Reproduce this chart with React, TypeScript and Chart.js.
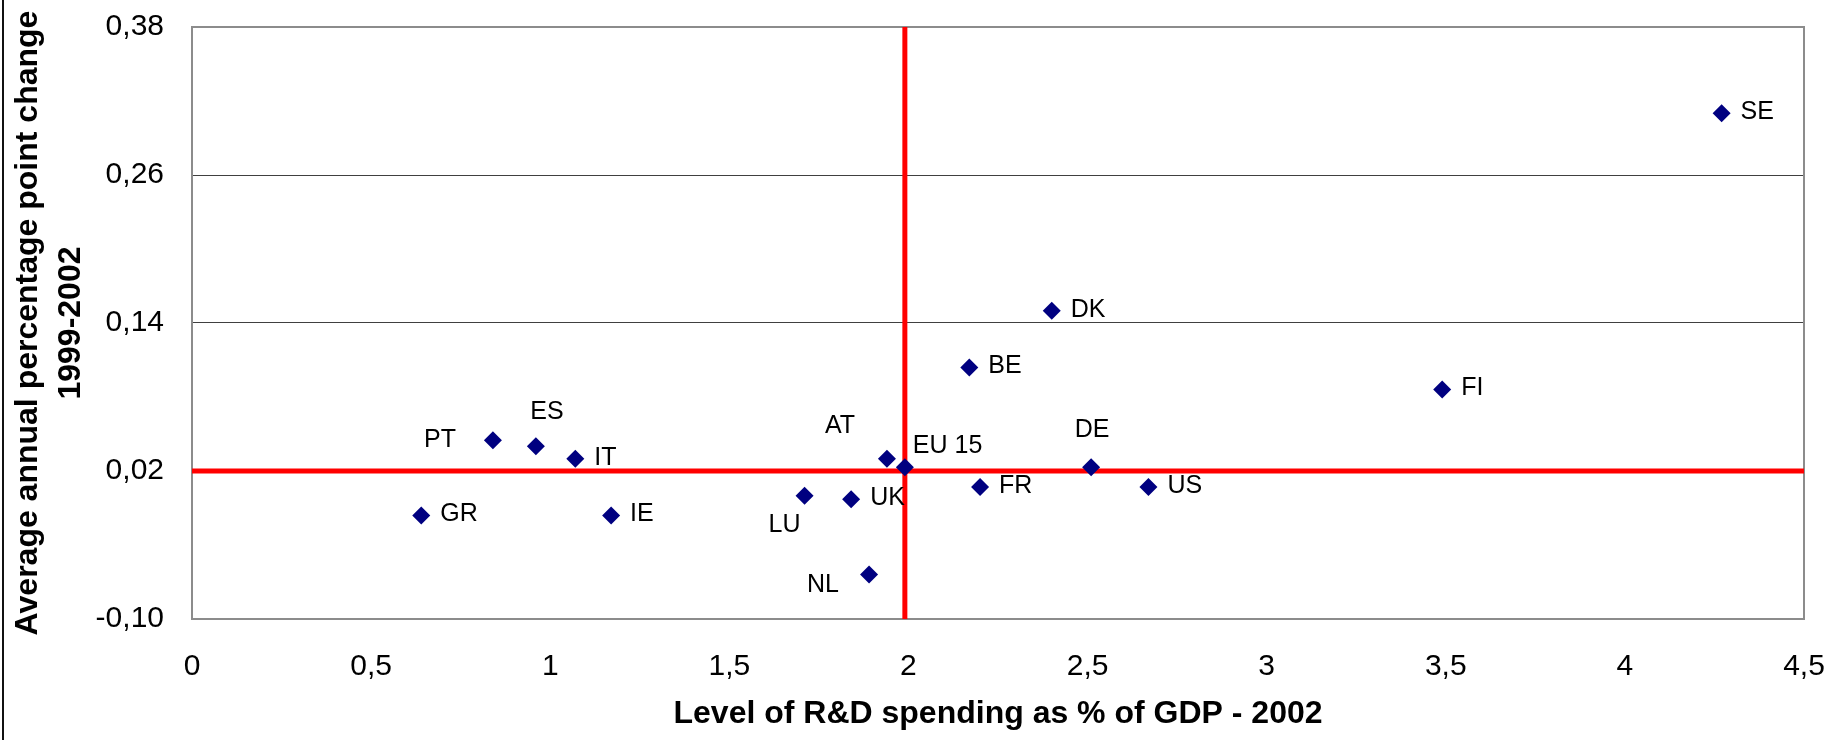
import React, { useEffect, useRef } from 'react';
import { Chart, registerables } from 'chart.js';

Chart.register(...registerables);

// ---- Data ----
const countries = ['SE', 'FI', 'DK', 'BE', 'DE', 'US', 'FR', 'EU 15', 'AT', 'IT', 'ES', 'PT', 'GR', 'IE', 'LU', 'UK', 'NL'];
const rdSpending2002 = [4.27, 3.49, 2.40, 2.17, 2.51, 2.67, 2.20, 1.99, 1.94, 1.07, 0.96, 0.84, 0.64, 1.17, 1.71, 1.84, 1.89];
const annualChange = [0.310, 0.086, 0.150, 0.104, 0.023, 0.007, 0.007, 0.023, 0.030, 0.030, 0.040, 0.045, -0.016, -0.016, 0.000, -0.003, -0.064];

const referenceSpending = 1.99; // vertical red line
const referenceChange = 0.02; // horizontal red line

const xTicks = [0, 0.5, 1, 1.5, 2, 2.5, 3, 3.5, 4, 4.5];
const yTicks = [-0.1, 0.02, 0.14, 0.26, 0.38];

const xTitle = 'Level of R&D spending as % of GDP - 2002';
const yTitle = ['Average annual percentage point change', '1999-2002'];

// ---- Label placement (relative to each marker) ----
type Placement = { dx: number; dy: number; align: CanvasTextAlign };
const DEFAULT_PLACEMENT: Placement = { dx: 19, dy: -1, align: 'left' };
const LABEL_PLACEMENT: Record<string, Placement> = {
  PT: { dx: -37, dy: 0, align: 'right' },
  ES: { dx: 11, dy: -34, align: 'center' },
  AT: { dx: -47, dy: -33, align: 'center' },
  'EU 15': { dx: 8, dy: -21, align: 'left' },
  LU: { dx: -20, dy: 29, align: 'center' },
  NL: { dx: -46, dy: 11, align: 'center' },
  DE: { dx: 1, dy: -37, align: 'center' },
};

const FONT = '"Liberation Sans", Arial, Helvetica, sans-serif';
const CLEAR = 'rgba(0,0,0,0)';

const decorPlugin = {
  id: 'decor',
  beforeDatasetsDraw(chart: any) {
    const { ctx, chartArea } = chart;
    ctx.save();
    ctx.strokeStyle = '#8c8c8c';
    ctx.lineWidth = 2;
    ctx.strokeRect(chartArea.left, chartArea.top, chartArea.right - chartArea.left, chartArea.bottom - chartArea.top);
    ctx.restore();
  },
  afterDatasetsDraw(chart: any) {
    const { ctx } = chart;
    const meta = chart.getDatasetMeta(0);
    ctx.save();
    ctx.font = `25px ${FONT}`;
    ctx.fillStyle = '#000000';
    ctx.textBaseline = 'middle';
    meta.data.forEach((pt: any, i: number) => {
      const name = countries[i];
      const p = LABEL_PLACEMENT[name] || DEFAULT_PLACEMENT;
      ctx.textAlign = p.align;
      ctx.fillText(name, pt.x + p.dx, pt.y + p.dy);
    });
    ctx.restore();
  },
  afterDraw(chart: any) {
    const { ctx } = chart;
    ctx.save();
    ctx.fillStyle = '#111111';
    ctx.fillRect(2, 0, 2, chart.height);
    ctx.restore();
  },
};

export default function App() {
  const canvasRef = useRef<HTMLCanvasElement | null>(null);

  useEffect(() => {
    document.body.style.margin = '0';
    const canvas = canvasRef.current;
    if (!canvas) return;

    const points = rdSpending2002.map((x, i) => ({ x, y: annualChange[i] }));
    const xMin = xTicks[0];
    const xMax = xTicks[xTicks.length - 1];
    const yMin = yTicks[0];
    const yMax = yTicks[yTicks.length - 1];

    const chart = new Chart(canvas, {
      type: 'scatter',
      data: {
        datasets: [
          {
            label: 'Countries',
            data: points,
            pointStyle: 'rectRot',
            pointRadius: 9,
            pointBackgroundColor: '#000080',
            pointBorderColor: '#000080',
            pointBorderWidth: 0,
            order: 0,
          },
          {
            label: 'ref-h',
            data: [
              { x: xMin, y: referenceChange },
              { x: xMax, y: referenceChange },
            ],
            showLine: true,
            borderColor: '#ff0000',
            borderWidth: 5,
            pointRadius: 0,
            order: 1,
          },
          {
            label: 'ref-v',
            data: [
              { x: referenceSpending, y: yMin },
              { x: referenceSpending, y: yMax },
            ],
            showLine: true,
            borderColor: '#ff0000',
            borderWidth: 5,
            pointRadius: 0,
            order: 1,
          },
        ],
      },
      options: {
        responsive: false,
        animation: false,
        events: [],
        devicePixelRatio: 1,
        layout: { padding: { top: 27, right: 29, bottom: 0, left: 0 } },
        plugins: {
          legend: { display: false },
          tooltip: { enabled: false },
        },
        scales: {
          x: {
            type: 'linear',
            min: xMin,
            max: xMax,
            grid: { display: true, drawOnChartArea: false, color: CLEAR, tickColor: CLEAR, drawTicks: true, tickLength: 30 },
            border: { display: false },
            afterBuildTicks: (s: any) => {
              s.ticks = xTicks.map((v) => ({ value: v }));
            },
            afterFit: (s: any) => {
              s.height = 121;
            },
            ticks: {
              padding: 0,
              color: '#000000',
              font: { family: FONT, size: 30 },
              maxRotation: 0,
              autoSkip: false,
              callback: (v: any) => String(Number(Number(v).toFixed(1))).replace('.', ','),
            },
            title: {
              display: true,
              text: xTitle,
              color: '#000000',
              font: { family: FONT, size: 32, weight: 'bold', lineHeight: 1.2 },
              padding: { top: 0, bottom: 7 },
            },
          },
          y: {
            type: 'linear',
            min: yMin,
            max: yMax,
            grid: { color: '#404040', lineWidth: 1, tickColor: CLEAR, drawTicks: true, tickLength: 28 },
            border: { display: false },
            afterBuildTicks: (s: any) => {
              s.ticks = yTicks.map((v) => ({ value: v }));
            },
            afterFit: (s: any) => {
              s.width = 192;
            },
            ticks: {
              padding: 0,
              color: '#000000',
              font: { family: FONT, size: 30 },
              autoSkip: false,
              callback: (v: any) => Number(v).toFixed(2).replace('.', ','),
            },
            title: {
              display: true,
              text: yTitle,
              color: '#000000',
              font: { family: FONT, size: 32, weight: 'bold', lineHeight: 1.34 },
              padding: { top: 7, bottom: 0 },
            },
          },
        },
      },
      plugins: [decorPlugin],
    } as any);

    return () => {
      chart.destroy();
    };
  }, []);

  return (
    <div style={{ position: 'absolute', left: 0, top: 0, width: 1833, height: 740, background: '#ffffff' }}>
      <canvas ref={canvasRef} width={1833} height={740} style={{ display: 'block', width: 1833, height: 740 }} />
    </div>
  );
}
